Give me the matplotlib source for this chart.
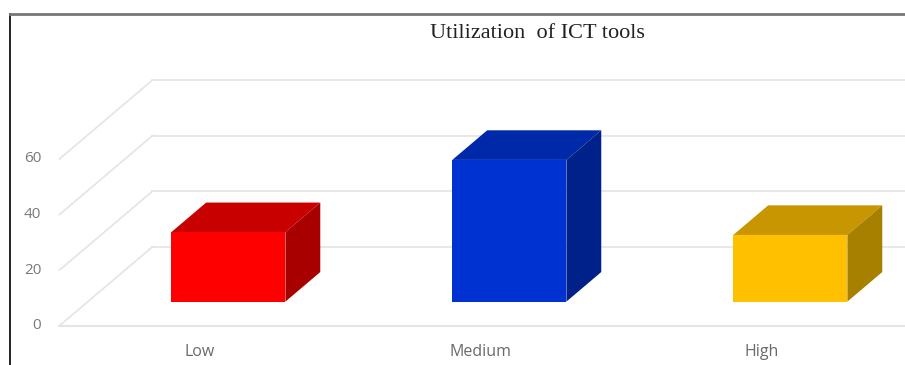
import numpy as np
import matplotlib
matplotlib.use("Agg")
import matplotlib.pyplot as plt
from matplotlib.lines import Line2D

title = "Utilization  of ICT tools"
categories = ["Low", "Medium", "High"]
values = [25, 51, 24]
yticks = [0, 20, 40, 60]
front_colors = ["#ff0000", "#0032d2", "#ffc000"]
top_colors = ["#c80000", "#0029aa", "#c89600"]
side_colors = ["#a80000", "#00208a", "#a88000"]

# oblique "3d" look: full depth offset in data units
DX, DY = 0.331, 28.4
depth_front, depth_back = 0.305, 0.68
bar_w = 0.406

fig = plt.figure(figsize=(9.05, 3.65), dpi=100)
ax = fig.add_axes([0, 0, 1, 1])
ax.set_xlim(-0.7117, 2.509)
ax.set_ylim(-14.14, 117.2)
ax.axis("off")

grid_c = "#e4e4e4"
x_left = -0.5
for v in yticks:
    # back wall line + diagonal on the side wall
    ax.plot([x_left + DX, 2.6], [v + DY, v + DY], color=grid_c, lw=1.2, zorder=1)
    ax.plot([x_left, x_left + DX], [v, v + DY], color=grid_c, lw=1.2, zorder=1)
    ax.text(x_left - 0.065, v, str(v), ha="right", va="center",
            fontsize=11, color="#7a7a7a", family="Open Sans")
# floor front edge
ax.plot([x_left, 2.6], [0, 0], color=grid_c, lw=1.5, zorder=1)

for i, v in enumerate(values):
    xl = i - bar_w / 2 + depth_front * DX
    xr = xl + bar_w
    yb = depth_front * DY
    ox = (depth_back - depth_front) * DX
    oy = (depth_back - depth_front) * DY
    ax.fill([xl, xr, xr, xl], [yb, yb, yb + v, yb + v],
            color=front_colors[i], lw=0, zorder=3)
    ax.fill([xl, xr, xr + ox, xl + ox], [yb + v, yb + v, yb + v + oy, yb + v + oy],
            color=top_colors[i], lw=0, zorder=3)
    ax.fill([xr, xr + ox, xr + ox, xr], [yb, yb + oy, yb + v + oy, yb + v],
            color=side_colors[i], lw=0, zorder=3)
    ax.text(i, -9.5, categories[i], ha="center", va="center",
            fontsize=11.5, color="#6a6a6a", family="Open Sans")

fig.text(537 / 905, 1 - 33 / 365, title, ha="center", va="center",
         fontsize=16, family="Liberation Serif", color="#222222")

# outer frame (left and top only are visible)
fig.add_artist(Line2D([10 / 905, 10 / 905], [0, 1 - 14 / 365], color="#111111", lw=1.3))
fig.add_artist(Line2D([10 / 905, 1], [1 - 14 / 365, 1 - 14 / 365], color="#777777", lw=2))

fig.savefig("out.png", dpi=100)
